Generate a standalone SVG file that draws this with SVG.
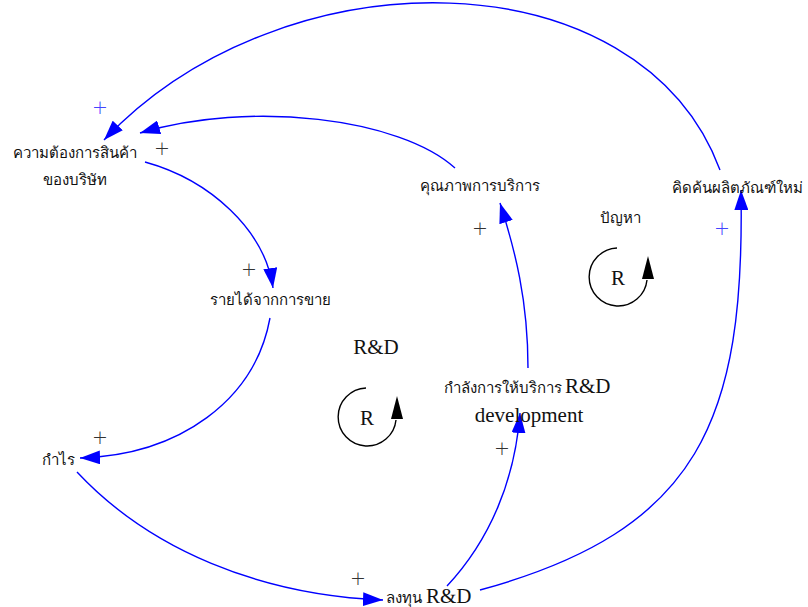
<svg xmlns="http://www.w3.org/2000/svg" width="808" height="607" viewBox="0 0 808 607">
<defs>
<marker id="ah" markerWidth="20" markerHeight="14" refX="20" refY="7" orient="auto" markerUnits="userSpaceOnUse"><path d="M0,0 L20,7 L0,14 z" fill="#0000ff"/></marker>
<style>
.c{fill:none;stroke:#0000ff;stroke-width:1.4;marker-end:url(#ah)}
.th{font-family:"Liberation Sans","DejaVu Sans",sans-serif;font-size:15px;fill:#111;text-anchor:middle}
.en{font-family:"Liberation Serif",serif;font-size:21px;fill:#111;text-anchor:middle}
.p{font-family:"DejaVu Sans",sans-serif;font-weight:200;font-size:19px;fill:#333;text-anchor:middle}
.pb{font-family:"DejaVu Sans",sans-serif;font-weight:200;font-size:19px;fill:#4444ff;text-anchor:middle}
.loop{fill:none;stroke:#000;stroke-width:1.4}
.ths{font-family:"Liberation Sans","DejaVu Sans",sans-serif;font-size:15px;fill:#111}
.ens{font-family:"Liberation Serif",serif;font-size:21px;fill:#111}
</style>
</defs>
<g id="connectors">
<path class="c" d="M720,170 C640,-45 284,-50 104,140"/>
<path class="c" d="M455,168 C400,118 250,100 140,133"/>
<path class="c" d="M145,162 C210,180 265,230 273,288"/>
<path class="c" d="M270,318 C255,400 180,455 80,458"/>
<path class="c" d="M77,472 C150,550 260,595 383,600"/>
<path class="c" d="M447,586 C490,540 515,480 520,413"/>
<path class="c" d="M480,590 C700,530 745,420 741,190"/>
<path class="c" d="M528,368 C528,300 515,250 500,203"/>
</g>
<g id="polarities">
<text class="pb" x="100" y="114">+</text>
<text class="p" x="162" y="155">+</text>
<text class="p" x="249" y="276">+</text>
<text class="p" x="100" y="444">+</text>
<text class="p" x="358" y="585">+</text>
<text class="p" x="502" y="455">+</text>
<text class="p" x="480" y="235">+</text>
<text class="pb" x="722" y="235">+</text>
</g>
<g id="n-demand"><text class="th" x="75" y="158">ความต้องการสินค้า</text><text class="th" x="75" y="185">ของบริษัท</text></g>
<g id="n-revenue"><text class="th" x="270" y="305">รายได้จากการขาย</text></g>
<g id="n-profit"><text class="th" x="58" y="465">กำไร</text></g>
<g id="n-invest"><text class="ths" x="386" y="603">ลงทุน</text><text class="ens" x="426" y="603">R&amp;D</text></g>
<g id="n-capacity"><text class="ths" x="444" y="393">กำลังการให้บริการ</text><text class="ens" x="565" y="393">R&amp;D</text><text class="en" x="529" y="422">development</text></g>
<g id="n-quality"><text class="th" x="480" y="191">คุณภาพการบริการ</text></g>
<g id="n-newproduct"><text class="th" x="737" y="193">คิดค้นผลิตภัณฑ์ใหม่</text></g>
<g id="loop-problem">
<text class="th" x="620" y="223">ปัญหา</text>
<path class="loop" d="M617,248 A29,29 0 1 0 647,280"/>
<path d="M648,256 L654,279 L642,279 z" fill="#000"/>
<text class="en" x="618" y="285">R</text>
</g>
<g id="loop-rd">
<text class="en" x="376" y="354">R&amp;D</text>
<path class="loop" d="M366,388 A29,29 0 1 0 396,420"/>
<path d="M397,396 L403,419 L391,419 z" fill="#000"/>
<text class="en" x="367" y="425">R</text>
</g>
</svg>
